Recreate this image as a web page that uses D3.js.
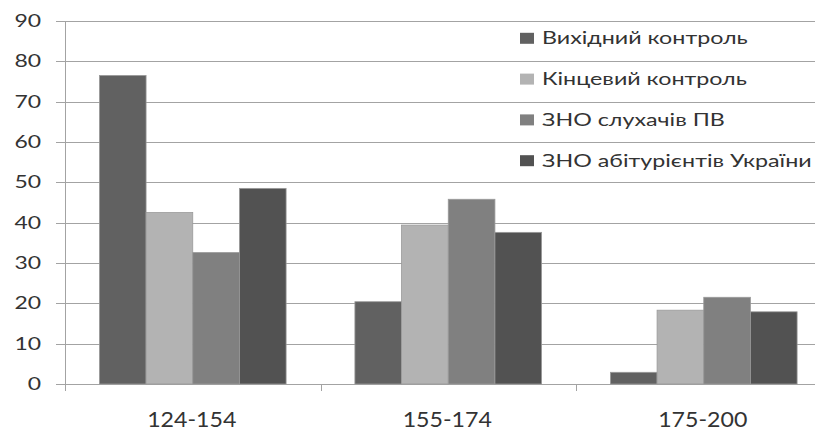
<!DOCTYPE html>
<html>
<head>
<meta charset="utf-8">
<script src="https://cdn.jsdelivr.net/npm/d3@7"></script>
<style>
  body { margin: 0; background: #fff; }
  svg { display: block; }
  text { font-family: Lato, "Open Sans", sans-serif; fill: #333; }
</style>
</head>
<body>
<svg width="815" height="430"></svg>
<script>
var categories = ["124-154", "155-174", "175-200"];
var seriesNames = ["Вихідний контроль", "Кінцевий контроль", "ЗНО слухачів ПВ", "ЗНО абітурієнтів України"];
var vyhidnyi = [76.5, 20.4, 2.9];
var kintsevyi = [42.5, 39.4, 18.3];
var znoPv = [32.6, 45.8, 21.5];
var znoUkr = [48.5, 37.6, 17.9];
var yTicks = [0, 10, 20, 30, 40, 50, 60, 70, 80, 90];
var colors = ["#616161", "#b3b3b3", "#808080", "#525252"];

var series = [vyhidnyi, kintsevyi, znoPv, znoUkr];

var svg = d3.select("svg");
var plotLeft = 65, plotTop = 21, plotBottom = 384;
var bandW = 255.5;

var y = d3.scaleLinear().domain([0, 90]).range([plotBottom, plotTop]);
var x0 = d3.scaleBand().domain(categories).range([plotLeft, plotLeft + bandW * categories.length]);
var x1 = d3.scaleBand().domain(d3.range(seriesNames.length)).range([34.4, 221.1]);

// gridlines
svg.append("g").selectAll("line")
  .data(yTicks)
  .enter().append("line")
  .attr("x1", plotLeft - 9).attr("x2", 815)
  .attr("y1", function(d) { return Math.round(y(d)) + 0.5; })
  .attr("y2", function(d) { return Math.round(y(d)) + 0.5; })
  .attr("stroke", "#a3a3a3").attr("stroke-width", 1);

// y axis line
svg.append("line")
  .attr("x1", plotLeft + 0.5).attr("x2", plotLeft + 0.5)
  .attr("y1", plotTop).attr("y2", plotBottom + 7)
  .attr("stroke", "#a3a3a3");

// category ticks
svg.append("g").selectAll("line")
  .data(categories.concat(["end"]))
  .enter().append("line")
  .attr("x1", function(d, i) { return Math.round(plotLeft + bandW * i) + 0.5; })
  .attr("x2", function(d, i) { return Math.round(plotLeft + bandW * i) + 0.5; })
  .attr("y1", plotBottom).attr("y2", plotBottom + 7)
  .attr("stroke", "#a3a3a3");

// y labels
svg.append("g").selectAll("text")
  .data(yTicks)
  .enter().append("text")
  .attr("transform", function(d) { return "translate(41," + (y(d) + 6) + ") scale(1.35,1)"; })
  .attr("text-anchor", "end")
  .style("font-size", "17px")
  .text(function(d) { return d; });

// x labels
svg.append("g").selectAll("text")
  .data(categories)
  .enter().append("text")
  .attr("transform", function(d) { return "translate(" + (x0(d) + x0.bandwidth() / 2 - 1) + ",427) scale(1.13,1)"; })
  .attr("text-anchor", "middle")
  .style("font-size", "20.5px")
  .text(function(d) { return d; });

// bars
var groups = svg.append("g").selectAll("g")
  .data(categories)
  .enter().append("g")
  .attr("transform", function(d) { return "translate(" + x0(d) + ",0)"; });

groups.selectAll("rect")
  .data(function(d, ci) { return series.map(function(s, si) { return { si: si, v: s[ci] }; }); })
  .enter().append("rect")
  .attr("x", function(d) { return x1(d.si); })
  .attr("width", x1.bandwidth())
  .attr("y", function(d) { return y(d.v); })
  .attr("height", function(d) { return y(0) - y(d.v); })
  .attr("fill", function(d) { return colors[d.si]; })
  .attr("stroke", "#9a9a9a")
  .attr("stroke-width", 0.8);

// legend
var legend = svg.append("g").selectAll("g")
  .data(seriesNames)
  .enter().append("g")
  .attr("transform", function(d, i) { return "translate(520," + (44.3 + i * 40.8) + ")"; });

legend.append("rect")
  .attr("x", 0).attr("y", -11.5)
  .attr("width", 14).attr("height", 11)
  .attr("fill", function(d, i) { return colors[i]; });

legend.append("text")
  .attr("transform", "translate(22,0) scale(1.33,1)")
  .style("font-size", "17.5px")
  .text(function(d) { return d; });
</script>
</body>
</html>
